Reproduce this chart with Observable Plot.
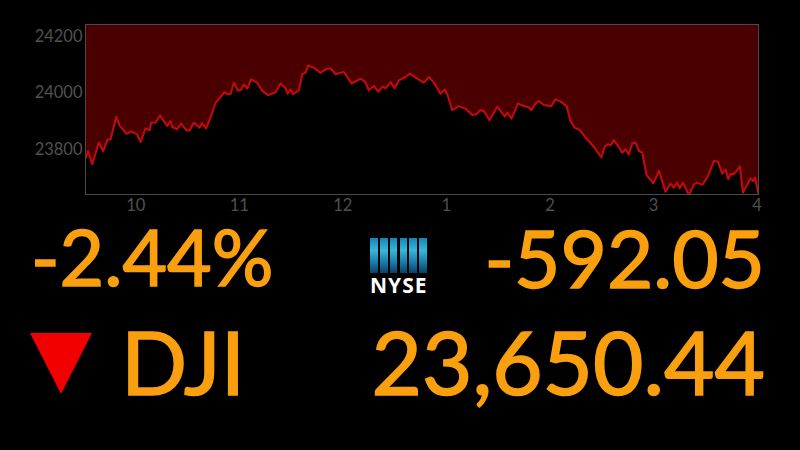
<!DOCTYPE html>
<html><head><meta charset="utf-8">
<script src="https://cdn.jsdelivr.net/npm/d3@7"></script>
<script src="https://cdn.jsdelivr.net/npm/@observablehq/plot@0.6"></script>
<style>
html,body{margin:0;padding:0;background:#000;width:800px;height:450px;overflow:hidden}
#wrap{position:relative;width:800px;height:450px;background:#000;font-family:Lato,sans-serif;color:#fa9f0e}
#chart{position:absolute;left:0;top:0}
.big{position:absolute;line-height:.72;white-space:nowrap;-webkit-text-stroke:1.6px #fa9f0e}
#tri{position:absolute;left:30px;top:333px;width:0;height:0;border-left:31.5px solid transparent;border-right:31.5px solid transparent;border-top:61px solid #f20000}
#logo{position:absolute;left:370px;top:238px;width:57px;height:58px}
#bars{display:flex;gap:2.2px;height:35px}
#bars i{display:block;flex:1;height:35px;background:linear-gradient(#1583b5,#38b6dc 35%,#1b7aa8 70%,#0b3f63)}
#ny{color:#fff;font:bold 21px/20px "Open Sans",sans-serif;letter-spacing:1px;text-align:center;margin-top:2px}
</style></head><body>
<div id="wrap"><div id="chart"></div>
<div class="big" style="left:31px;top:229px;font-size:77px">-2.44%</div>
<div class="big" style="right:35px;top:229px;font-size:80px">-592.05</div>
<div id="tri"></div>
<div class="big" style="left:121px;top:331px;font-size:87px">DJI</div>
<div class="big" style="right:35px;top:331px;font-size:87px">23,650.44</div>
<div id="logo"><div id="bars"><i></i><i></i><i></i><i></i><i></i><i></i></div><div id="ny">NYSE</div></div>
</div>
<script>
// minutes after the 9:30 open
const minutes = [0.4,1.5,3.9,7.7,10.2,12.9,14.5,17.8,19.9,23.8,26.5,29.9,31.9,34.8,37.1,38.1,40.6,43.1,47.3,49.3,50.2,53.1,55.4,58.5,60.3,62.8,66.1,67.6,69.9,72.8,75.3,78.2,80.6,82.1,84,86,88.3,90.2,91.8,93.7,96,99.5,102.4,105.9,110.1,113,115.9,117.2,118.8,120.3,123.6,125.6,127.5,129,132.3,136.2,139.1,142,144.9,149.7,154.1,159.4,161.9,164.2,167.1,169.6,172.3,173.9,176.8,179.1,181.6,185.4,188,192.2,196.1,199,201.9,205.7,208.1,210,212.5,216.4,220.2,224.1,226.6,228.5,230.8,234.1,238.6,243,244.4,246.9,250.6,254,256.9,258.3,260.4,262.7,265.6,269.9,272.4,275.3,278.8,281.1,283.4,286.5,289.8,294.6,298.9,300.8,302.7,304.3,306.2,309.1,311,313,314.9,316.8,318.8,320.7,322.6,325.1,329,332.3,336.1,339,341,342.9,344.3,346.2,349.7,352.6,354.5,357.4,360.3,364.2,366.5,369,370.9,372.5,373.8,375.8,379.2,381,385.4,387,387.9,390];
const index = [23768,23791,23744,23821,23791,23832,23832,23911,23880,23852,23860,23850,23823,23871,23864,23891,23891,23917,23880,23897,23876,23868,23888,23864,23864,23891,23874,23889,23871,23915,23962,23982,24000,23992,23992,24033,24004,24008,24027,24012,24045,24033,24004,23989,23998,24030,24013,23994,24009,23992,24006,24063,24068,24094,24086,24068,24080,24084,24063,24071,24030,24047,24037,24006,24021,24001,24020,24013,24035,24013,24041,24053,24065,24047,24033,24053,24033,23994,24009,23986,23936,23950,23941,23919,23921,23935,23933,23900,23948,23913,23927,23906,23959,23950,23945,23936,23956,23968,23954,23950,23974,23966,23950,23897,23874,23865,23838,23806,23768,23805,23815,23811,23830,23805,23785,23797,23779,23818,23820,23791,23785,23706,23677,23720,23647,23676,23661,23679,23659,23679,23635,23673,23679,23671,23697,23756,23753,23711,23726,23691,23709,23709,23736,23644,23694,23685,23697,23640];
const xTicks = [30,90,150,210,270,330,390];
const xLabels = ["10","11","12","1","2","3","4"];
const yTicks = [23800,24000,24200];
const yDomain = [23637,24239];
const rows = minutes.map((m,i)=>({m,v:index[i]}));
const plot = Plot.plot({
  width:800,height:222,marginLeft:85,marginRight:42,marginTop:24,marginBottom:28,
  style:{background:"#000",fontFamily:"Lato,sans-serif",fontSize:"16.5px"},
  x:{domain:[0,390],label:null},
  y:{domain:yDomain,label:null},
  marks:[
    Plot.areaY(rows,{x:"m",y1:"v",y2:yDomain[1],fill:"#4a0000",clip:true}),
    Plot.lineY(rows,{x:"m",y:"v",stroke:"#c20a0c",strokeWidth:2.1,clip:true}),
    Plot.frame({stroke:"#4a4a4a",strokeWidth:1,strokeOpacity:1}),
    Plot.axisX({ticks:xTicks,tickFormat:d=>xLabels[xTicks.indexOf(d)],tickSize:0,tickPadding:5,dx:-1.5,color:"#505050",label:null}),
    Plot.axisY({ticks:yTicks,tickFormat:d=>String(d),tickSize:0,tickPadding:3,dy:1,color:"#505050",label:null})
  ]
});
document.getElementById("chart").appendChild(plot);
</script>
</body></html>
